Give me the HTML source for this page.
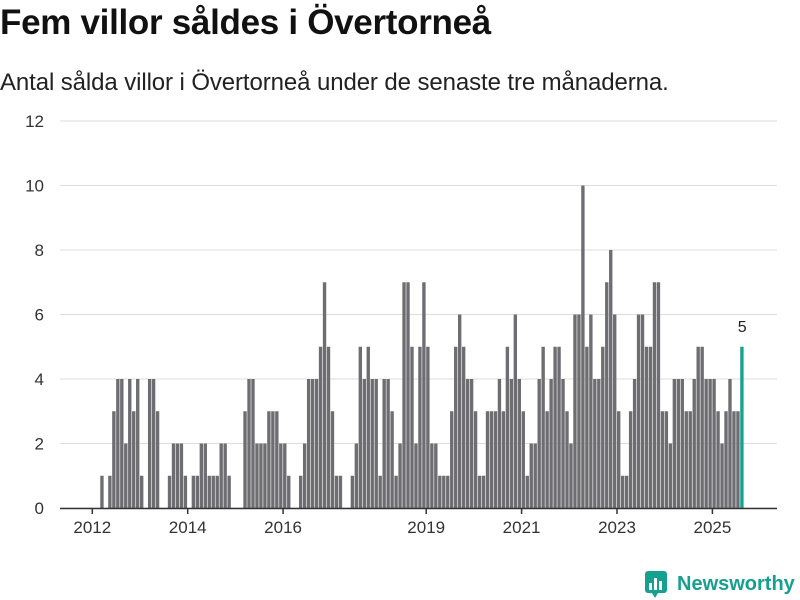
<!DOCTYPE html>
<html><head><meta charset="utf-8">
<style>
body{margin:0;background:#fff;font-family:"Liberation Sans",sans-serif;}
#wrap{position:relative;width:800px;height:600px;overflow:hidden;}
h1{position:absolute;left:0;top:3px;margin:0;font-size:35px;font-weight:bold;color:#111;letter-spacing:-0.3px;}
.sub{position:absolute;left:0;top:69px;margin:0;font-size:24px;color:#222;letter-spacing:-0.1px;}
svg{position:absolute;left:0;top:0;}
</style></head><body>
<div id="wrap">
<h1>Fem villor såldes i Övertorneå</h1>
<p class="sub">Antal sålda villor i Övertorneå under de senaste tre månaderna.</p>
<svg id="chart" width="800" height="600"></svg>
</div>
<script>
const startYear = 2012;
const values = [0,0,1,0,1,3,4,4,2,4,3,4,1,0,4,4,3,0,0,1,2,2,2,1,0,1,1,2,2,1,1,1,2,2,1,0,0,0,3,4,4,2,2,2,3,3,3,2,2,1,0,0,1,2,4,4,4,5,7,5,3,1,1,0,0,1,2,5,4,5,4,4,1,4,4,3,1,2,7,7,5,2,5,7,5,2,2,1,1,1,3,5,6,5,4,4,3,1,1,3,3,3,4,3,5,4,6,4,3,1,2,2,4,5,3,4,5,5,4,3,2,6,6,10,5,6,4,4,5,7,8,6,3,1,1,3,4,6,6,5,5,7,7,3,3,2,4,4,4,3,3,4,5,5,4,4,4,3,2,3,4,3,3,5];
const yTicks = [0,2,4,6,8,10,12];
const xTickYears = [2012,2014,2016,2019,2021,2023,2025];

const svg = document.getElementById('chart');
const NS = 'http://www.w3.org/2000/svg';
const x0 = 92.3, monthW = 3.975, y0 = 508, yPer = 32.25;
const xScale = i => x0 + i * monthW;
const yScale = v => y0 - v * yPer;
function mk(tag, attrs){const e=document.createElementNS(NS,tag);for(const k in attrs)e.setAttribute(k,attrs[k]);svg.appendChild(e);return e;}

yTicks.forEach(t=>{
  const g = mk('line',{x1:60,x2:777,y1:yScale(t),y2:yScale(t),stroke:'#dddddd','stroke-width':1});
  
  
  const l = mk('text',{x:44,y:yScale(t)+6,'text-anchor':'end','font-size':17,fill:'#333','font-family':'Liberation Sans, sans-serif'});
  l.textContent = t;
  
  
});

values.forEach((v,i)=>{
  if(v<=0) return;
  const last = i===values.length-1;
  const r = mk('rect',{x:xScale(i),y:yScale(v),width:monthW-0.6,height:v*yPer,fill:last?'#16a090':'#6e6d72'});
  
  
  if(last){
    const t = mk('text',{x:xScale(i)+monthW/2,y:yScale(v)-15,'text-anchor':'middle','font-size':16,fill:'#222','font-family':'Liberation Sans, sans-serif'});
    t.textContent = v;
    
    
  }
});

const ax = mk('line',{x1:60,x2:777,y1:y0+0.5,y2:y0+0.5,stroke:'#333','stroke-width':1.5});


xTickYears.forEach(yr=>{
  const xx = xScale((yr-startYear)*12);
  const tk = mk('line',{x1:xx,x2:xx,y1:y0,y2:y0+6,stroke:'#333','stroke-width':1.5});
  
  
  const t = mk('text',{x:xx,y:y0+25,'text-anchor':'middle','font-size':17,fill:'#333','font-family':'Liberation Sans, sans-serif'});
  t.textContent = yr;
  
  
});
</script>
<svg width="800" height="600" style="position:absolute;left:0;top:0;pointer-events:none">
  <rect x="645" y="571" width="22" height="22" rx="3" fill="#16a090"/>
  <rect x="649" y="583" width="3" height="7" fill="#fff"/>
  <rect x="654" y="578" width="3" height="12" fill="#fff"/>
  <rect x="659" y="581" width="3" height="9" fill="#fff"/>
  <polygon points="652,593 658,593 655,598" fill="#16a090"/>
  <text x="677" y="590" font-size="20" font-weight="bold" fill="#16a090" font-family="Liberation Sans, sans-serif">Newsworthy</text>
</svg>
</body></html>
